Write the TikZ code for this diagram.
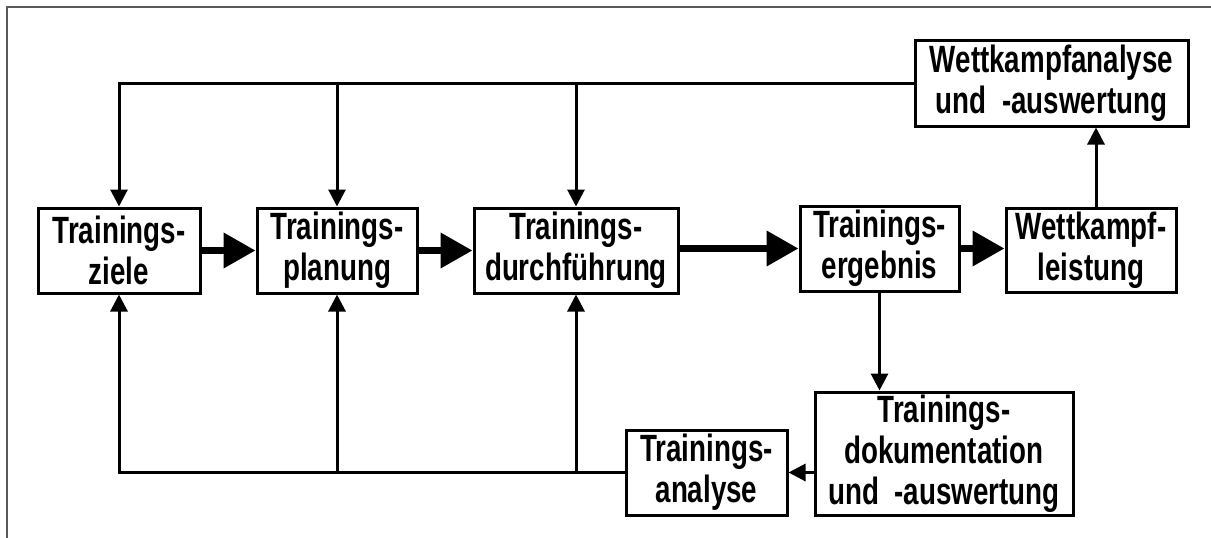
\documentclass[tikz,border=0pt]{standalone}
\usepackage{fontspec}
\setmainfont[FakeStretch=0.73]{Liberation Sans}
\usetikzlibrary{arrows.meta}
\begin{document}
\begin{tikzpicture}[x=1pt,y=-1pt,
  stepbox/.style={draw,line width=3pt,inner sep=0pt,align=center,
    font=\fontsize{38}{41}\selectfont\bfseries},
  flow/.style={line width=7pt,-{Triangle[length=32pt,width=34pt]}},
  feed/.style={line width=3pt,-{Triangle[length=17pt,width=17pt]}},
  link/.style={line width=3pt}]
\useasboundingbox (0,0) rectangle (1211,538);
% frame lines
\draw[line width=2pt,black!65] (7,538) -- (7,7) -- (1211,7);

% main row
\node[stepbox,minimum width=162pt,minimum height=85pt] (ziele) at (119,250.5) {Trainings-\\ziele};
\node[stepbox,minimum width=160pt,minimum height=85pt] (plan) at (337,250.5) {Trainings-\\planung};
\node[stepbox,minimum width=204pt,minimum height=85pt] (durch) at (576,250.5) {Trainings-\\durchführung};
\node[stepbox,minimum width=159pt,minimum height=85pt] (erg) at (879.5,248.5) {Trainings-\\ergebnis};
\node[stepbox,minimum width=170pt,minimum height=84pt] (wk) at (1091,250) {Wettkampf-\\leistung};

% analysis boxes
\node[stepbox,minimum width=273pt,minimum height=86pt] (wkana) at (1051.5,83) {Wettkampfanalyse\\und~~-auswertung};
\node[stepbox,minimum width=258pt,minimum height=123pt] (doku) at (944,453.5) {Trainings-\\dokumentation\\und~~-auswertung};
\node[stepbox,minimum width=161pt,minimum height=85pt] (ana) at (706.5,472.5) {Trainings-\\analyse};

% riser from the competition box
\coordinate (riser) at (1096,0);

% main flow
\draw[flow] (ziele.east) -- (plan.west);
\draw[flow] (plan.east) -- (plan.east -| durch.west);
\draw[flow] (durch.east |- erg.west) -- (erg.west);
\draw[flow] (erg.east) -- (erg.east -| wk.west);

% competition analysis
\draw[feed] (riser |- wk.north) -- (riser |- wkana.south);
\draw[feed] (wkana.west) -| (ziele.north);
\draw[feed] (plan.north |- wkana.west) -- (plan.north);
\draw[feed] (durch.north |- wkana.west) -- (durch.north);

% training documentation and analysis
\draw[feed] (erg.south) -- (erg.south |- doku.north);
\draw[feed] (doku.west |- ana.east) -- (ana.east);
\draw[feed] (ana.west) -| (ziele.south);
\draw[feed] (plan.south |- ana.west) -- (plan.south);
\draw[feed] (durch.south |- ana.west) -- (durch.south);
\end{tikzpicture}
\end{document}
